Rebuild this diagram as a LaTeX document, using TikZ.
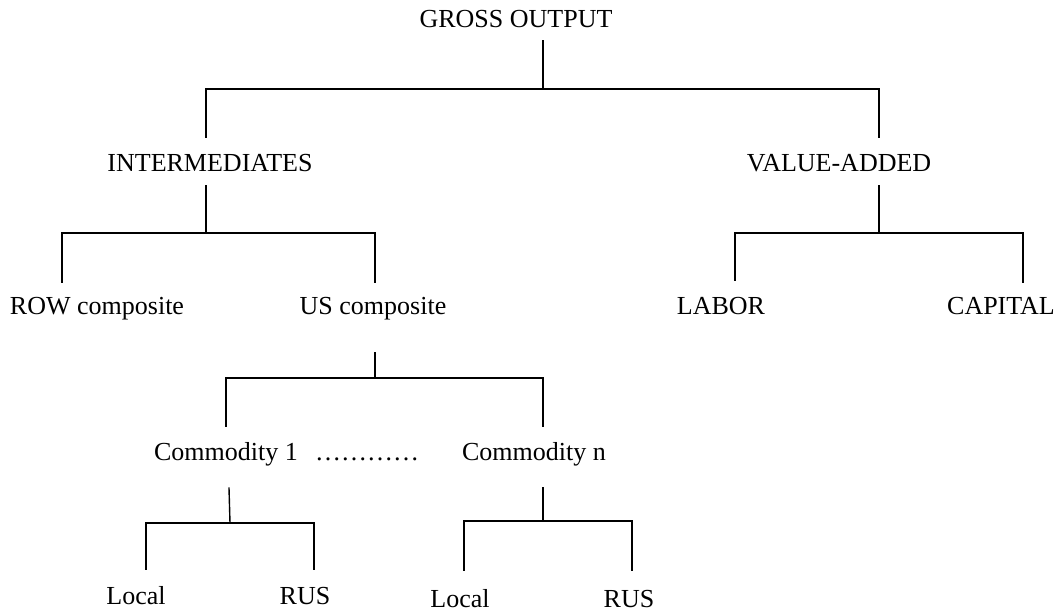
\documentclass[tikz,border=0pt]{standalone}
\usepackage{fontspec}
\setmainfont{Liberation Serif}
\begin{document}
\begin{tikzpicture}[x=1pt,y=-1pt,
  lbl/.style={anchor=base,inner sep=0pt,font=\fontsize{26}{30}\selectfont},
  conn/.style={line width=1.4pt,line cap=rect}]
\useasboundingbox (0,0) rectangle (1060,612);
% labels
\node[lbl] (go)  at (516,27.5) {GROSS OUTPUT};
\node[lbl] (int) at (210,172) {INTERMEDIATES};
\node[lbl] (va)  at (839,172) {VALUE-ADDED};
\node[lbl] (row) at (97,315) {ROW composite};
\node[lbl] (us)  at (373,315) {US composite};
\node[lbl] (lab) at (721,315) {LABOR};
\node[lbl] (cap) at (1001,315) {CAPITAL};
\node[lbl] (c1)  at (226,460) {Commodity 1};
\node[lbl] (dots) at (367,460) {…………};
\node[lbl] (cn)  at (534,460) {Commodity n};
\node[lbl] (l1)  at (136,604) {Local};
\node[lbl] (r1)  at (305,604) {RUS};
\node[lbl] (l2)  at (460,607) {Local};
\node[lbl] (r2)  at (629,607) {RUS};
% connector end points
\coordinate (goS) at (543,41);   \coordinate (goJ) at (543,89);
\coordinate (intN) at (206,137); \coordinate (vaN) at (879,137);
\coordinate (intS) at (206,186); \coordinate (intJ) at (206,233);
\coordinate (rowN) at (62,282);  \coordinate (usN) at (375,282);
\coordinate (vaS) at (879,186);  \coordinate (vaJ) at (879,233);
\coordinate (labN) at (735,280); \coordinate (capN) at (1023,282);
\coordinate (usS) at (375,353);  \coordinate (usJ) at (375,378);
\coordinate (c1N) at (226,426);  \coordinate (cnN) at (543,426);
\coordinate (c1S) at (229,488);  \coordinate (c1J) at (230,523);
\coordinate (l1N) at (146,569);  \coordinate (r1N) at (314,569);
\coordinate (cnS) at (543,488);  \coordinate (cnJ) at (543,521);
\coordinate (l2N) at (464,570);  \coordinate (r2N) at (632,570);
% connectors
\draw[conn] (goS) -- (goJ);
\draw[conn] (intN) |- (goJ) -| (vaN);
\draw[conn] (intS) -- (intJ);
\draw[conn] (rowN) |- (intJ) -| (usN);
\draw[conn] (vaS) -- (vaJ);
\draw[conn] (labN) |- (vaJ) -| (capN);
\draw[conn] (usS) -- (usJ);
\draw[conn] (c1N) |- (usJ) -| (cnN);
\draw[conn] (c1S) -- (c1J);
\draw[conn] (l1N) |- (c1J) -| (r1N);
\draw[conn] (cnS) -- (cnJ);
\draw[conn] (l2N) |- (cnJ) -| (r2N);
\end{tikzpicture}
\end{document}
